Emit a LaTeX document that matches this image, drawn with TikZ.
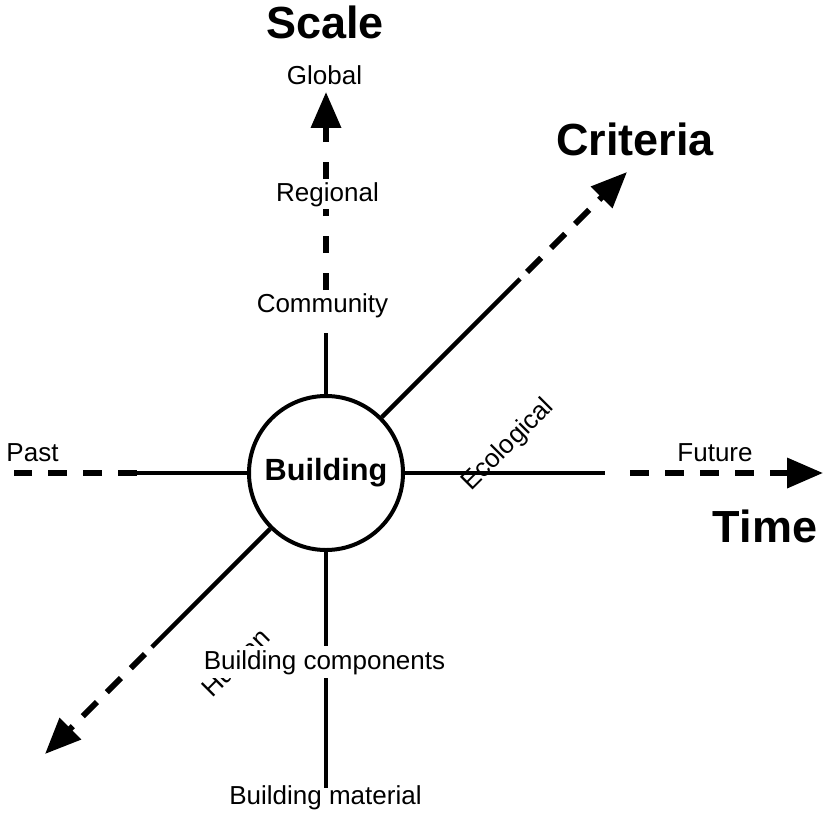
\documentclass[tikz,border=0pt]{standalone}
\usepackage{fontspec}
\setmainfont{Liberation Sans}
\usetikzlibrary{arrows.meta}
\begin{document}
\begin{tikzpicture}[x=0.75pt,y=-0.75pt,
  solidline/.style={line width=3.4pt},
  dashline/.style={line width=4.3pt, dash pattern=on 14.25pt off 12pt},
  tipped/.style={-{Triangle[length=27pt,width=22pt]}},
  hub/.style={circle, draw, line width=3pt, fill=white, minimum size=115.5pt, inner sep=0pt,
              font=\fontsize{23}{27}\selectfont\bfseries},
  title/.style={font=\fontsize{33.75}{40}\selectfont\bfseries, anchor=base, inner sep=0pt},
  lab/.style={font=\fontsize{19.5}{23}\selectfont, anchor=base, inner sep=2pt},
  rlab/.style={font=\fontsize{19.5}{23}\selectfont, anchor=base west, inner sep=0pt, rotate=45},
  whitebg/.style={fill=white}
]
\useasboundingbox (0,0) rectangle (830,813);

\node[hub] (b) at (326,473) {Building};

% named end points
\coordinate (nS) at (326,333);
\coordinate (nD) at (326,290);
\coordinate (nT) at (326,92);
\coordinate (sE) at (326,788);
\coordinate (wS) at (137,473);
\coordinate (wE) at (14,473);
\coordinate (eS) at (605,473);
\coordinate (eD) at (630,473);
\coordinate (eT) at (823,473);
\coordinate (neS) at (520,279);
\coordinate (neD) at (527,272);
\coordinate (neT) at (627,172);
\coordinate (swS) at (152,647);
\coordinate (swD) at (145,654);
\coordinate (swT) at (45,754);

% solid parts
\draw[solidline] (b.north) -- (nS);
\draw[solidline] (b.south) -- (sE);
\draw[solidline] (b.west) -- (wS);
\draw[solidline] (b.east) -- (eS);
\draw[solidline] (b.45) -- (neS);
\draw[solidline] (b.225) -- (swS);

% dashed parts
\draw[dashline] (wS) -- (wE);
\draw[dashline, tipped] (eD) -- (eT);
\draw[dashline, tipped, dash pattern=on 12.75pt off 15pt] (nD) -- (nT);
\draw[dashline, tipped, dash pattern=on 15pt off 10.5pt] (neD) -- (neT);
\draw[dashline, tipped, dash pattern=on 15pt off 10.5pt] (swD) -- (swT);

% titles
\node[title] (tScale) at (325,39) {Scale};
\node[title] (tCrit) at (635,155) {Criteria};
\node[title] (tTime) at (765,542) {Time};

% labels
\node[lab] (lGlobal) at (324.5,85) {Global};
\node[lab, whitebg] (lRegional) at (327.5,201) {Regional};
\node[lab] (lCommunity) at (322.5,312) {Community};
\node[lab] (lPast) at (32.5,461) {Past};
\node[lab] (lFuture) at (715,461) {Future};
\node[rlab] (lEco) at (471,492) {Ecological};
\node[rlab] (lHuman) at (212,699) {Human};
\node[lab, whitebg, inner sep=3pt] (lComp) at (324.5,669) {Building components};
\node[lab] (lMat) at (325.5,804) {Building material};
\end{tikzpicture}
\end{document}
